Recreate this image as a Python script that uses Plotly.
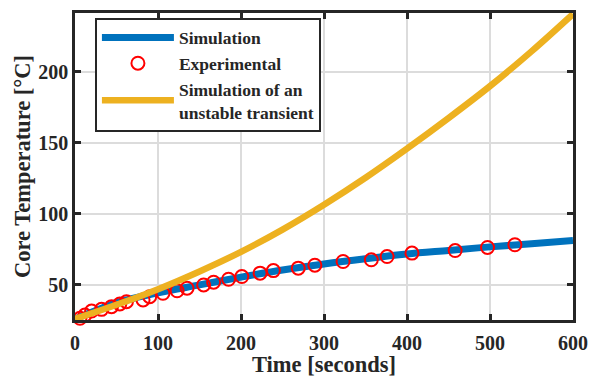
import plotly.graph_objects as go

# Simulation (blue)
sim_t = [0, 25, 50, 100, 150, 200, 250, 300, 350, 400, 450, 500, 550, 600]
sim_T = [26.0, 32.0, 37.5, 44.5, 50.0, 55.5, 60.5, 64.8, 68.5, 71.8, 74.3, 76.8, 79.0, 81.3]

# Experimental (red circles)
exp_t = [6, 12, 20, 32, 44, 54, 62, 82, 90, 106, 123, 135, 155, 167, 185, 201, 223, 239,
         269, 289, 323, 357, 376, 406, 458, 497, 530]
exp_T = [26.5, 28.8, 31.6, 32.8, 34.7, 36.6, 38.2, 39.4, 41.7, 44.1, 45.9, 47.7, 50.0, 51.9,
         54.0, 55.9, 58.3, 60.1, 61.8, 63.9, 66.5, 67.7, 70.0, 72.4, 74.2, 76.4, 78.3]

# Simulation of an unstable transient (orange)
uns_t = [0, 50, 100, 150, 200, 250, 300, 350, 400, 450, 500, 550, 600]
uns_T = [26.0, 36.0, 47.0, 59.5, 73.3, 89.0, 106.5, 125.5, 146.0, 167.5, 190.0, 214.5, 240.8]

x_ticks = [0, 100, 200, 300, 400, 500, 600]
y_ticks = [50, 100, 150, 200]

FONT = "Times New Roman, Liberation Serif, serif"

fig = go.Figure()
fig.add_trace(go.Scatter(x=sim_t, y=sim_T, mode="lines", name="<b>Simulation</b>",
                         line=dict(color="#0072BD", width=7, shape="spline")))
fig.add_trace(go.Scatter(x=exp_t, y=exp_T, mode="markers", name="<b>Experimental</b>",
                         marker=dict(symbol="circle-open", size=13, color="#FF0000",
                                     line=dict(width=2, color="#FF0000")),
                         cliponaxis=False))
fig.add_trace(go.Scatter(x=uns_t, y=uns_T, mode="lines",
                         name="<b>Simulation of an<br>unstable transient</b>",
                         line=dict(color="#EDB120", width=6.5, shape="spline")))

axis_common = dict(
    showline=True, linecolor="#262626", linewidth=2.5, mirror="ticks",
    ticks="inside", ticklen=6, tickwidth=2.5, tickcolor="#262626",
    showgrid=True, gridcolor="#DCDCDC", gridwidth=2, zeroline=False,
    tickfont=dict(family=FONT, size=20, color="#262626"),
    automargin=False,
)

fig.update_layout(
    width=592, height=377,
    margin=dict(l=75, r=19, t=13, b=57),
    paper_bgcolor="white", plot_bgcolor="white",
    font=dict(family=FONT, color="#262626"),
    xaxis=dict(range=[0, 600], tickvals=x_ticks,
               ticktext=[f"<b>{v}</b>" for v in x_ticks],
               ticklabelstandoff=3,
               title=dict(text="<b>Time [seconds]</b>", font=dict(family=FONT, size=22.5), standoff=5),
               **axis_common),
    yaxis=dict(range=[25.3, 241.5], tickvals=y_ticks,
               ticktext=[f"<b>{v}</b>" for v in y_ticks],
               title=dict(text="<b>Core Temperature [°C]</b>", font=dict(family=FONT, size=22.5), standoff=2),
               **axis_common),
    legend=dict(x=0.04, y=0.985, xanchor="left", yanchor="top",
                bgcolor="white", bordercolor="#262626", borderwidth=2,
                font=dict(family=FONT, size=17.5, color="#262626"),
                itemwidth=72, tracegroupgap=0),
    showlegend=True,
)

fig.write_html("out.html")
